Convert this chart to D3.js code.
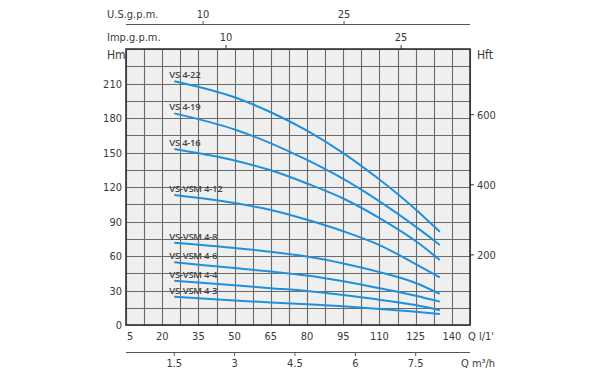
<!DOCTYPE html>
<html><head><meta charset="utf-8">
<script src="https://cdn.jsdelivr.net/npm/d3@7"></script>
<style>
body{margin:0;background:#fff;}
text{font-family:'DejaVu Sans Condensed','DejaVu Sans',sans-serif;font-stretch:condensed;fill:#3a3a3a;}
.cl{font-family:'Open Sans',sans-serif;font-stretch:normal;font-weight:600;font-size:9.5px;fill:#454545;letter-spacing:-0.25px;}
</style></head>
<body><svg id="c" width="600" height="375"></svg>
<script>
// ---- data ----
const flow = [25, 50, 65, 80, 95, 110, 125, 135];           // l/min
const pumps = ["VS 4-22","VS 4-19","VS 4-16","VS-VSM 4-12","VS-VSM 4-8","VS-VSM 4-6","VS-VSM 4-4","VS-VSM 4-3"];
const h422 = [212, 198, 185, 169, 149.5, 126.5, 100.5, 81];
const h419 = [184, 170, 158, 143.5, 127, 107.5, 85.5, 69.6];
const h416 = [153, 143, 134.5, 123, 110, 93, 73, 56.5];
const h412 = [113, 106, 100, 91.5, 81.5, 69.5, 53, 41.5];
const h48  = [71.6, 67, 63.7, 59.5, 53.5, 46, 36.5, 27];
const h46  = [54.5, 49.5, 46.5, 43, 38, 32, 25.5, 20.3];
const h44  = [38.5, 34.5, 32, 29.5, 26, 22, 17.3, 12.8];
const h43  = [24.6, 21.2, 19.6, 18, 16.2, 14, 11.6, 9.6];
const heads = [h422, h419, h416, h412, h48, h46, h44, h43];

const lminTicks = [5, 20, 35, 50, 65, 80, 95, 110, 125, 140];
const m3hTicks = [1.5, 3, 4.5, 6, 7.5];
const usTicks = [10, 25];
const impTicks = [10, 25];
const hmTicks = [0, 30, 60, 90, 120, 150, 180, 210];
const hftTicks = [200, 400, 600];
const qDomain = [5, 147.5];
const hDomain = [0, 240];
const usDomain = [1.8, 38.4];
const impDomain = [1.43, 30.9];

// ---- layout ----
const L = 126, R = 470, T = 49, B = 325;
const svg = d3.select("#c");
const x = d3.scaleLinear().domain(qDomain).range([L, R]);
const y = d3.scaleLinear().domain(hDomain).range([B, T]);
const yft = d3.scaleLinear().domain(hDomain.map(d => d * 3.2808)).range([B, T]);
const xm3 = d3.scaleLinear().domain(qDomain.map(d => d * 0.06)).range([L, R]);
const xus = d3.scaleLinear().domain(usDomain).range([L, R]);
const ximp = d3.scaleLinear().domain(impDomain).range([L, R]);

svg.append("rect").attr("x", L).attr("y", T).attr("width", R - L).attr("height", B - T).attr("fill", "#efefef");

const grid = svg.append("g").attr("stroke", "#6a6a6a").attr("stroke-width", 1.1);
grid.selectAll(".v").data(d3.range(qDomain[0], qDomain[1] + 0.01, 7.5)).join("line")
  .attr("x1", d => Math.round(x(d)) + 0.5).attr("x2", d => Math.round(x(d)) + 0.5).attr("y1", T).attr("y2", B);
grid.selectAll(".h").data(d3.range(0, 240.01, 15)).join("line")
  .attr("y1", d => Math.round(y(d)) + 0.5).attr("y2", d => Math.round(y(d)) + 0.5).attr("x1", L).attr("x2", R);

// curves
const line = d3.line().x((d, i) => x(flow[i])).y(d => y(d)).curve(d3.curveMonotoneX);
svg.append("g").selectAll("path").data(heads).join("path")
  .attr("d", d => line(d)).attr("fill", "none").attr("stroke", "#2090de").attr("stroke-width", 2);
svg.append("g").selectAll("text").data(heads).join("text").attr("class", "cl")
  .attr("x", x(flow[0]) - 5).attr("y", d => y(d[0]) - 3).text((d, i) => pumps[i]);

svg.append("rect").attr("x", L).attr("y", T).attr("width", R - L).attr("height", B - T)
  .attr("fill", "none").attr("stroke", "#333").attr("stroke-width", 1.6);

// left axis
svg.append("g").selectAll("text").data(hmTicks).join("text")
  .attr("x", L - 4).attr("y", d => y(d) + 4).attr("text-anchor", "end").attr("font-size", 11).text(d => d);
svg.append("text").attr("x", 107).attr("y", 59).attr("font-size", 12).text("Hm");

// right axis
svg.append("g").selectAll("line").data(hftTicks).join("line")
  .attr("x1", R).attr("x2", R + 4).attr("y1", d => yft(d)).attr("y2", d => yft(d)).attr("stroke", "#333");
svg.append("g").selectAll("text").data(hftTicks).join("text")
  .attr("x", R + 7).attr("y", d => yft(d) + 4).attr("font-size", 11).text(d => d);
svg.append("text").attr("x", 477).attr("y", 59).attr("font-size", 12).text("Hft");

// bottom l/min labels
svg.append("g").selectAll("text").data(lminTicks).join("text")
  .attr("x", (d, i) => i === 0 ? x(d) + 1 : x(d)).attr("y", 340)
  .attr("text-anchor", (d, i) => i === 0 ? "start" : "middle").attr("font-size", 11).text(d => d);
svg.append("text").attr("x", 468).attr("y", 340).attr("font-size", 11).text("Q l/1'");

// m3/h axis
svg.append("line").attr("x1", L).attr("x2", R).attr("y1", 352.5).attr("y2", 352.5).attr("stroke", "#555");
svg.append("g").selectAll("line").data(m3hTicks).join("line")
  .attr("x1", d => xm3(d)).attr("x2", d => xm3(d)).attr("y1", 352).attr("y2", 356).attr("stroke", "#555");
svg.append("g").selectAll("text").data(m3hTicks).join("text")
  .attr("x", d => xm3(d)).attr("y", 367).attr("text-anchor", "middle").attr("font-size", 11).text(d => d);
svg.append("text").attr("x", 461).attr("y", 367).attr("font-size", 11).text("Q m³/h");

// US gpm axis
svg.append("line").attr("x1", L).attr("x2", R).attr("y1", 24.5).attr("y2", 24.5).attr("stroke", "#555");
svg.append("g").selectAll("line").data(usTicks).join("line")
  .attr("x1", d => xus(d)).attr("x2", d => xus(d)).attr("y1", 21).attr("y2", 24.5).attr("stroke", "#555");
svg.append("g").selectAll("text").data(usTicks).join("text")
  .attr("x", d => xus(d)).attr("y", 18).attr("text-anchor", "middle").attr("font-size", 11).text(d => d);
svg.append("text").attr("x", 107).attr("y", 18).attr("font-size", 11).text("U.S.g.p.m.");

// Imp gpm axis (on plot top)
svg.append("g").selectAll("line").data(impTicks).join("line")
  .attr("x1", d => ximp(d)).attr("x2", d => ximp(d)).attr("y1", T - 4).attr("y2", T).attr("stroke", "#333");
svg.append("g").selectAll("text").data(impTicks).join("text")
  .attr("x", d => ximp(d)).attr("y", 41).attr("text-anchor", "middle").attr("font-size", 11).text(d => d);
svg.append("text").attr("x", 107).attr("y", 41).attr("font-size", 11).text("Imp.g.p.m.");
</script></body></html>
